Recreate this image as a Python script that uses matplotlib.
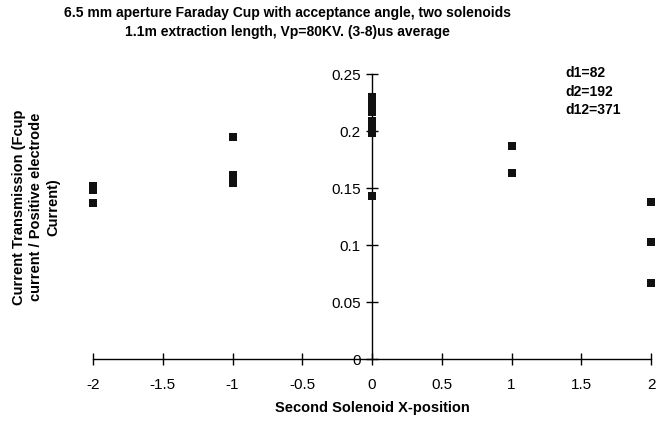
import matplotlib
matplotlib.use("Agg")
import matplotlib.pyplot as plt

plt.rcParams['font.family'] = ['Liberation Sans', 'DejaVu Sans']

# Data
x_pos = [-2, -2, -2,
         -1, -1, -1,
         0, 0, 0, 0, 0, 0, 0, 0,
         1, 1,
         2, 2, 2]
transmission = [0.152, 0.148, 0.137,
                0.195, 0.161, 0.154,
                0.230, 0.225, 0.220, 0.217, 0.209, 0.204, 0.198, 0.143,
                0.187, 0.163,
                0.138, 0.103, 0.067]

x_ticks = [-2, -1.5, -1, -0.5, 0, 0.5, 1, 1.5, 2]
x_tick_labels = ['-2', '-1.5', '-1', '-0.5', '0', '0.5', '1', '1.5', '2']
y_ticks = [0, 0.05, 0.1, 0.15, 0.2, 0.25]
y_tick_labels = ['0', '0.05', '0.1', '0.15', '0.2', '0.25']

title = ("6.5 mm aperture Faraday Cup with acceptance angle, two solenoids\n"
         "1.1m extraction length, Vp=80KV. (3-8)us average")
annotation = "d1=82\nd2=192\nd12=371"
xlabel = "Second Solenoid X-position"
ylabel = "Current Transmission (Fcup\ncurrent / Positive electrode\nCurrent)"

fig = plt.figure(figsize=(6.57, 4.23), dpi=100)
ax = fig.add_axes([0.1416, 0.1513, 0.8494, 0.6737])

ax.plot(x_pos, transmission, linestyle='none', marker='s', markersize=6.3,
        color='#111111', markeredgewidth=0, clip_on=False, zorder=3)

ax.set_xlim(-2, 2)
ax.set_ylim(0, 0.25)

ax.spines['top'].set_visible(False)
ax.spines['right'].set_visible(False)
ax.spines['left'].set_position(('data', 0))
ax.spines['bottom'].set_position(('data', 0))
for s in ('left', 'bottom'):
    ax.spines[s].set_linewidth(1.0)
    ax.spines[s].set_color('black')

ax.set_xticks(x_ticks)
ax.set_xticklabels(x_tick_labels)
ax.set_yticks(y_ticks)
ax.set_yticklabels(y_tick_labels)
ax.tick_params(axis='both', direction='inout', length=8, width=1.0,
               labelsize=11, colors='black')
ax.tick_params(axis='x', pad=10)
ax.tick_params(axis='y', pad=4)

ax.set_xlabel(xlabel, fontsize=10.5, fontweight='bold', labelpad=6)

fig.text(0.438, 0.985, title, ha='center', va='top', fontsize=10,
         fontweight='bold', linespacing=1.45)
fig.text(0.861, 0.845, annotation, ha='left', va='top', fontsize=10,
         fontweight='bold', linespacing=1.45)
fig.text(0.055, 0.51, ylabel, ha='center', va='center', rotation=90,
         fontsize=10.5, fontweight='bold', linespacing=1.3)

fig.savefig('out.png', dpi=100)
